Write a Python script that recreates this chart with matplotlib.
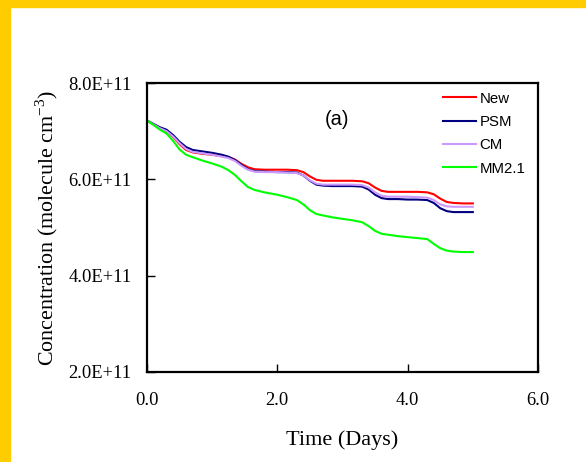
import matplotlib
matplotlib.use("Agg")
import matplotlib.pyplot as plt
from matplotlib.patches import Rectangle

# time in days
days = [0, 0.1, 0.2, 0.3, 0.4, 0.5, 0.6, 0.7, 0.85, 1.0, 1.15, 1.25, 1.35, 1.45,
        1.55, 1.65, 1.8, 2.0, 2.15, 2.3, 2.4, 2.5, 2.6, 2.7, 2.85, 3.0, 3.15,
        3.3, 3.4, 3.5, 3.6, 3.7, 3.85, 4.0, 4.15, 4.3, 4.4, 4.5, 4.6, 4.7,
        4.85, 5.0]

# concentrations, units of 1E+11 molecule cm-3
new = [7.22, 7.14, 7.06, 6.99, 6.88, 6.73, 6.61, 6.56, 6.53, 6.51, 6.48, 6.46,
       6.41, 6.32, 6.25, 6.21, 6.20, 6.20, 6.20, 6.19, 6.15, 6.06, 5.99, 5.97,
       5.97, 5.97, 5.97, 5.96, 5.92, 5.83, 5.76, 5.74, 5.74, 5.74, 5.74, 5.73,
       5.69, 5.60, 5.53, 5.51, 5.50, 5.50]
psm = [7.22, 7.15, 7.08, 7.03, 6.92, 6.78, 6.67, 6.61, 6.58, 6.55, 6.51, 6.47,
       6.40, 6.30, 6.21, 6.17, 6.16, 6.15, 6.15, 6.14, 6.08, 5.97, 5.89, 5.87,
       5.86, 5.86, 5.86, 5.85, 5.79, 5.68, 5.61, 5.59, 5.59, 5.58, 5.58, 5.57,
       5.51, 5.40, 5.34, 5.32, 5.32, 5.32]
cm = [7.22, 7.14, 7.06, 7.00, 6.89, 6.75, 6.63, 6.57, 6.54, 6.51, 6.47, 6.44,
      6.38, 6.28, 6.20, 6.16, 6.15, 6.15, 6.14, 6.13, 6.08, 5.98, 5.91, 5.89,
      5.89, 5.89, 5.89, 5.88, 5.83, 5.73, 5.66, 5.64, 5.64, 5.64, 5.63, 5.62,
      5.57, 5.48, 5.44, 5.43, 5.43, 5.43]
mm21 = [7.22, 7.13, 7.03, 6.95, 6.80, 6.62, 6.51, 6.46, 6.39, 6.33, 6.26, 6.19,
        6.09, 5.96, 5.84, 5.78, 5.73, 5.68, 5.63, 5.57, 5.48, 5.36, 5.28, 5.25,
        5.21, 5.18, 5.15, 5.11, 5.03, 4.93, 4.87, 4.85, 4.82, 4.80, 4.78, 4.76,
        4.66, 4.57, 4.52, 4.50, 4.49, 4.49]

series = ['New', 'PSM', 'CM', 'MM2.1']
colors = ['#ff0000', '#000080', '#cc99ff', '#00ff00']

xticks = [0, 2, 4, 6]
xticklabels = ['0.0', '2.0', '4.0', '6.0']
yticks = [2e11, 4e11, 6e11, 8e11]
yticklabels = ['2.0E+11', '4.0E+11', '6.0E+11', '8.0E+11']

serif = ['Liberation Serif', 'DejaVu Serif']
sans = ['Liberation Sans', 'DejaVu Sans']

fig = plt.figure(figsize=(5.86, 4.62), dpi=100)
fig.patch.set_facecolor('white')
# yellow frame on the top and left
fig.patches.append(Rectangle((0, 1 - 7 / 462), 1, 7 / 462, transform=fig.transFigure,
                             color='#ffcc00', zorder=0))
fig.patches.append(Rectangle((0, 0), 10 / 586, 1, transform=fig.transFigure,
                             color='#ffcc00', zorder=0))

ax = fig.add_axes([147 / 586, 1 - 372 / 462, 391 / 586, 289 / 462])

for name, vals, c in zip(series, [new, psm, cm, mm21], colors):
    ax.plot(days, [v * 1e11 for v in vals], color=c, lw=1.5, label=name)

ax.set_xlim(0, 6)
ax.set_ylim(2e11, 8e11)
ax.set_xticks(xticks)
ax.set_xticklabels(xticklabels, family=serif, fontsize=13.3)
ax.set_yticks(yticks)
ax.set_yticklabels(yticklabels, family=serif, fontsize=13.3)
ax.tick_params(axis='both', direction='in', length=6, width=1, color='black')
ax.tick_params(axis='y', pad=11)
ax.tick_params(axis='x', pad=14.5)
for s in ax.spines.values():
    s.set_linewidth(1.6)

ax.set_xlabel('Time (Days)', family=serif, fontsize=16, labelpad=15)
ax.set_ylabel(r'Concentration (molecule cm$^{\mathregular{-3}}$)', family=serif,
              fontsize=15.8, labelpad=6)

ax.text(0.485, 0.875, '(a)', transform=ax.transAxes, ha='center', va='center',
        family=sans, fontsize=14.5)

leg = ax.legend(loc='upper left', bbox_to_anchor=(0.757, 0.97), frameon=False,
                prop={'family': sans, 'size': 10.8}, handlelength=2.2,
                handletextpad=0.25, labelspacing=0.62, borderpad=0, borderaxespad=0)

fig.savefig('out.png', dpi=100)
